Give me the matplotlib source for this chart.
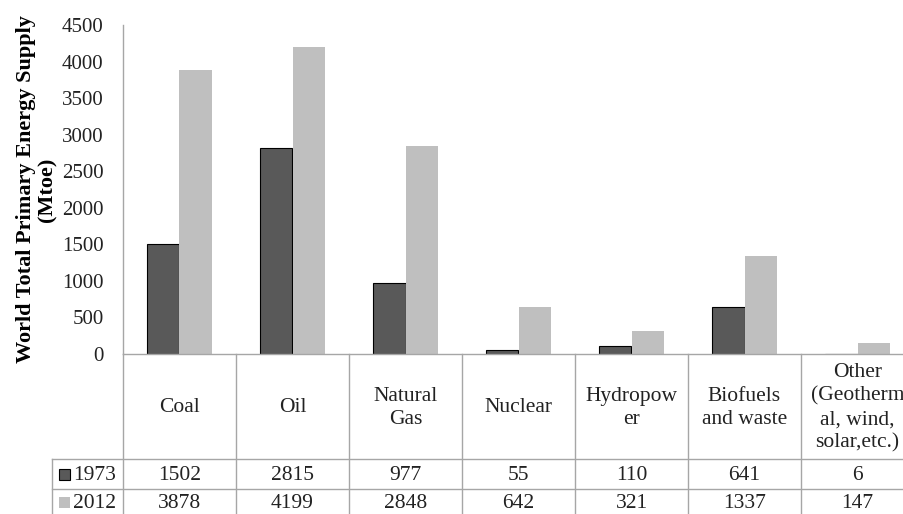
import matplotlib.pyplot as plt
import matplotlib.transforms as mtransforms
from matplotlib.patches import Rectangle
import numpy as np

plt.rcParams['font.family'] = ['Liberation Serif', 'DejaVu Serif']

# Data
categories = ["Coal", "Oil", "Natural\nGas", "Nuclear", "Hydropow\ner",
              "Biofuels\nand waste", "Other\n(Geotherm\nal, wind,\nsolar,etc.)"]
series_names = ["1973", "2012"]
supply_1973 = [1502, 2815, 977, 55, 110, 641, 6]
supply_2012 = [3878, 4199, 2848, 642, 321, 1337, 147]
yticks = [0, 500, 1000, 1500, 2000, 2500, 3000, 3500, 4000, 4500]

dark = "#595959"
light = "#BFBFBF"
grid_col = "#A6A6A6"
txt_col = "#222222"

W, H = 904, 514
fig = plt.figure(figsize=(W / 100, H / 100), dpi=100)

# axes in pixel positions (right side runs past the figure edge like the original)
ax_l, ax_r, ax_t, ax_b = 123, 914, 25, 354
ax = fig.add_axes([ax_l / W, (H - ax_b) / H, (ax_r - ax_l) / W, (ax_b - ax_t) / H])

x = np.arange(len(categories))
w = 0.288
ax.bar(x - w / 2, supply_1973, w, color=dark, edgecolor="black", linewidth=0.8)
ax.bar(x + w / 2, supply_2012, w, color=light, edgecolor="none")

ax.set_xlim(-0.5, len(categories) - 0.5)
ax.set_ylim(0, 4500)
ax.set_yticks(yticks)
ax.set_yticklabels([str(t) for t in yticks], fontsize=15, color=txt_col)
ax.set_xticks([])
ax.tick_params(axis="y", length=0, pad=14)
for s in ["top", "right"]:
    ax.spines[s].set_visible(False)
for s in ["left", "bottom"]:
    ax.spines[s].set_color(grid_col)
    ax.spines[s].set_linewidth(1)

ax.set_ylabel("World Total Primary Energy Supply\n(Mtoe)", fontsize=16,
              fontweight="bold", linespacing=1.12, labelpad=3)

# data table under the plot
ph = ax_b - ax_t
def fy(py):
    return (ax_b - py) / ph

trans = mtransforms.blended_transform_factory(ax.transData, ax.transAxes)
x_left = -0.5 + (52 - ax_l) / ((ax_r - ax_l) / len(categories))
y_head = fy(459)
y_row1 = fy(489)
y_end = fy(530)

for k in range(len(categories) + 1):
    ax.plot([k - 0.5, k - 0.5], [0, y_end], color=grid_col, lw=1,
            transform=trans, clip_on=False)
ax.plot([x_left, x_left], [y_head, y_end], color=grid_col, lw=1,
        transform=trans, clip_on=False)
for yy in [y_head, y_row1]:
    ax.plot([x_left, len(categories) - 0.5], [yy, yy], color=grid_col, lw=1,
            transform=trans, clip_on=False)

for i, cat in enumerate(categories):
    ax.text(i, fy(408), cat, ha="center", va="center", fontsize=15.5,
            color=txt_col, linespacing=1.3, transform=trans)
    ax.text(i, fy(475), str(supply_1973[i]), ha="center",
            va="center", fontsize=15.5, color=txt_col, transform=trans)
    ax.text(i, fy(503), str(supply_2012[i]), ha="center",
            va="center", fontsize=15.5, color=txt_col, transform=trans)

# legend keys in the row headers
for name, col, ec, yc in [(series_names[0], dark, "black", 474),
                          (series_names[1], light, "none", 502)]:
    fig.patches.append(Rectangle((59 / W, (H - yc - 5.5) / H), 11 / W, 11 / H,
                                 facecolor=col, edgecolor=ec, lw=0.8,
                                 transform=fig.transFigure))
    fig.text(116 / W, (H - yc - 1) / H, name, ha="right", va="center",
             fontsize=15.5, color=txt_col)

fig.savefig("out.png", dpi=100)
